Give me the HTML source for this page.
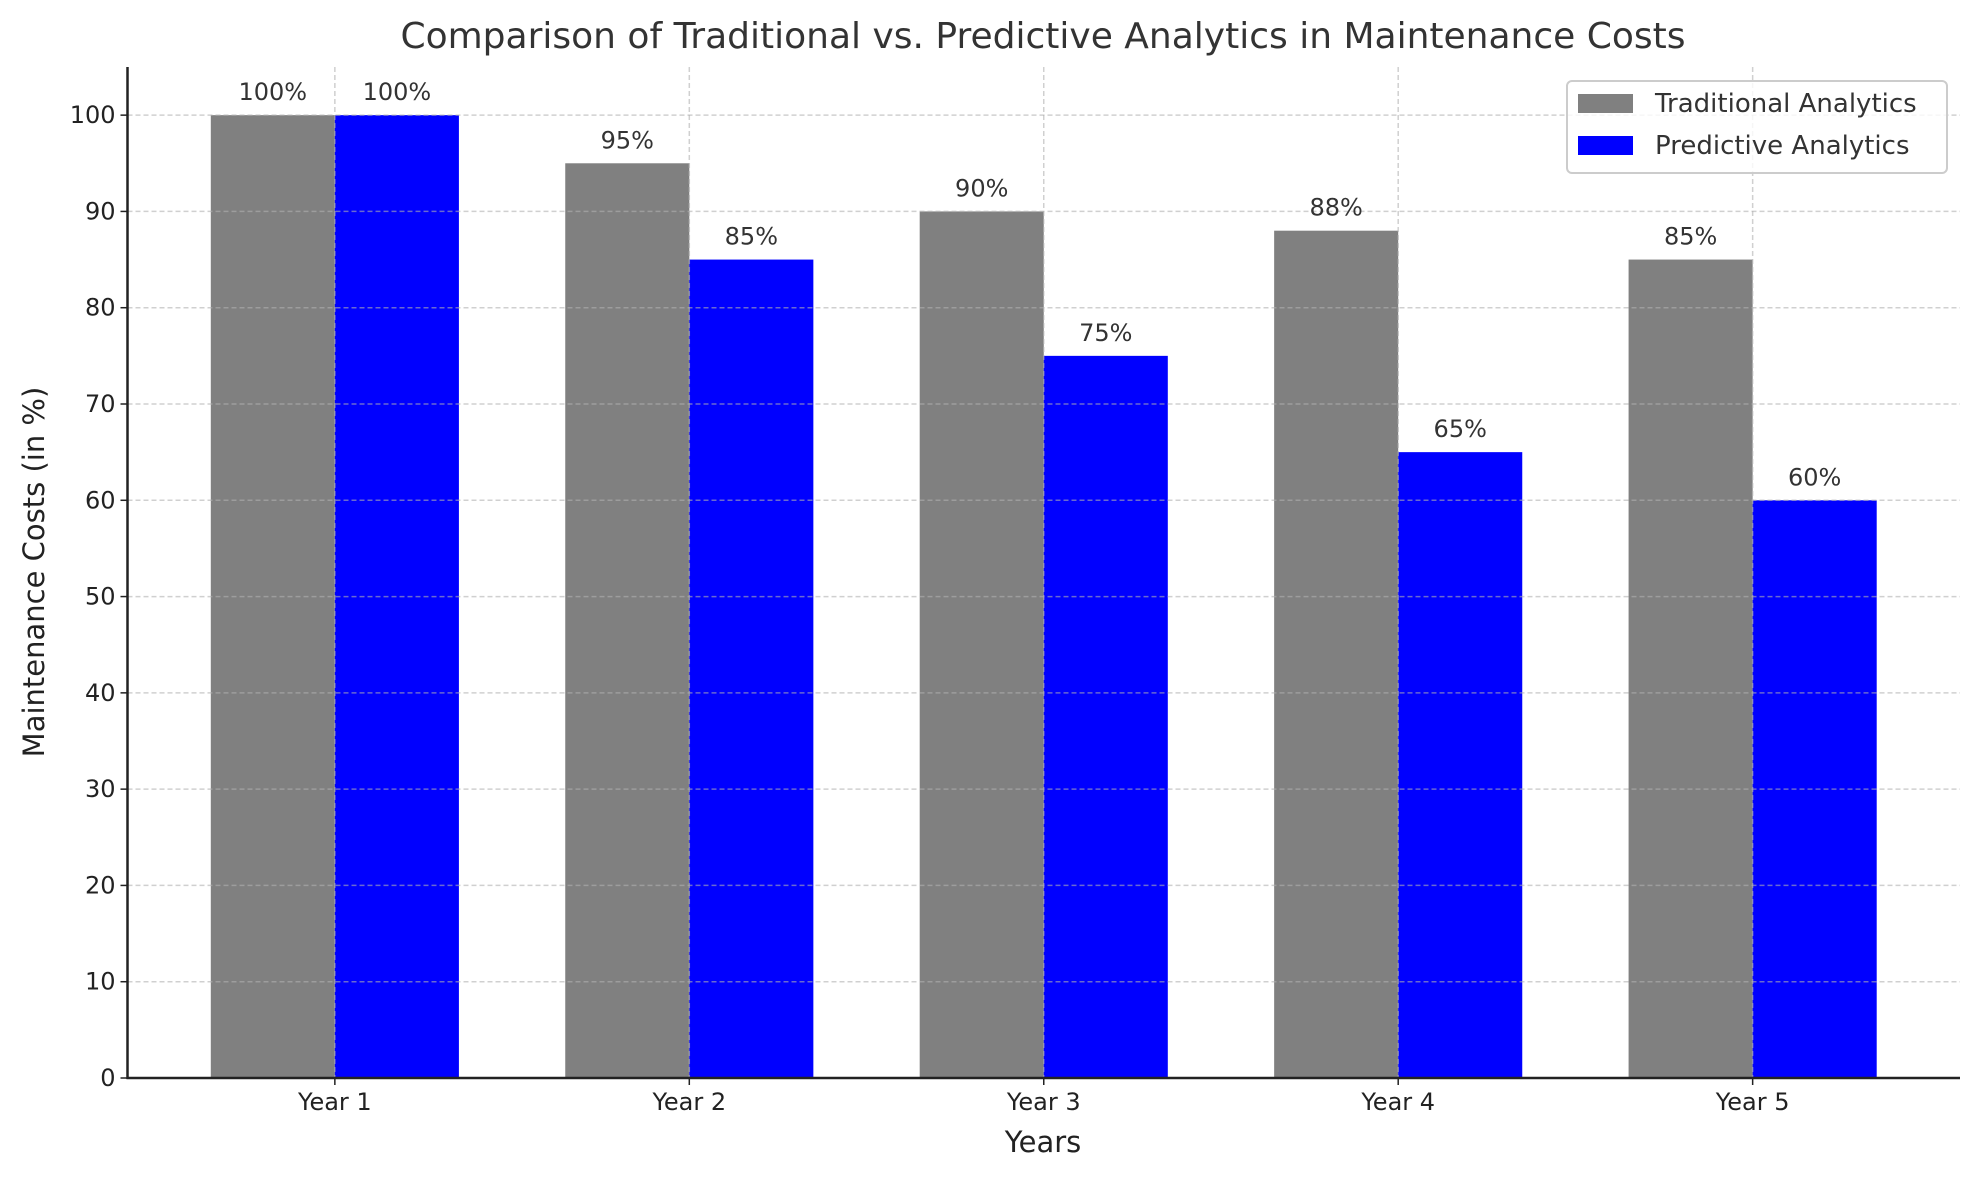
<!DOCTYPE html>
<html><head><meta charset="utf-8"><style>
body{margin:0;background:#fff}
svg text{font-family:"DejaVu Sans","Liberation Sans",sans-serif}
</style></head><body>
<svg id="chart" width="1979" height="1180" viewBox="0 0 1979 1180" xmlns="http://www.w3.org/2000/svg">
<rect width="1979" height="1180" fill="#fff"/>
<text x="1043" y="48" text-anchor="middle" font-size="36" fill="#333">Comparison of Traditional vs. Predictive Analytics in Maintenance Costs</text>
<g id="bars"></g><g id="grid"></g><g id="labels"></g><g id="axes"></g>
<text x="1043" y="1152" text-anchor="middle" font-size="29" fill="#222">Years</text>
<text transform="translate(44,572) rotate(-90)" text-anchor="middle" font-size="29" fill="#222">Maintenance Costs (in %)</text>
<g>
<rect x="1567" y="81" width="380" height="92" rx="5" fill="#fff" fill-opacity="0.8" stroke="#ccc" stroke-width="2"/>
<rect x="1578" y="94" width="55" height="19" fill="#808080"/>
<text x="1655" y="112" font-size="26" fill="#333">Traditional Analytics</text>
<rect x="1578" y="136" width="55" height="19" fill="#0000ff"/>
<text x="1655" y="154" font-size="26" fill="#333">Predictive Analytics</text>
</g>
</svg>
<script>
const categories=["Year 1","Year 2","Year 3","Year 4","Year 5"];
const traditional=[100,95,90,88,85];
const predictive=[100,85,75,65,60];
const yTicks=[0,10,20,30,40,50,60,70,80,90,100];
const L=127.5,R=1960,B=1078,T=67;
const xmin=-0.585,xmax=4.585,ymax=105;
const X=v=>L+(v-xmin)/(xmax-xmin)*(R-L);
const Y=v=>B-v/ymax*(B-T);
const NS="http://www.w3.org/2000/svg";
function mk(p,tag,a){const e=document.createElementNS(NS,tag);for(const k in a)e.setAttribute(k,a[k]);p.appendChild(e);return e;}
const bars=document.getElementById('bars'),grid=document.getElementById('grid'),labels=document.getElementById('labels'),axes=document.getElementById('axes');
const w=0.35;
categories.forEach((c,i)=>{
 [[traditional,'#808080',-w,'traditional'],[predictive,'#0000ff',0,'predictive']].forEach(([arr,col,off,nm])=>{
  const x0=X(i+off),x1=X(i+off+w);
  const r=mk(bars,'rect',{x:x0,y:Y(arr[i]),width:x1-x0,height:B-Y(arr[i]),fill:col});
  
  
  const t=mk(labels,'text',{x:(x0+x1)/2,y:Y(arr[i])-15,'text-anchor':'middle','font-size':'24',fill:'#333'});
  t.textContent=arr[i]+'%';
  
  
 });
 const g=mk(grid,'line',{x1:X(i),x2:X(i),y1:T,y2:B,stroke:'#b0b0b0','stroke-opacity':'0.6','stroke-width':'1.5','stroke-dasharray':'5,3'});
 
 
 mk(axes,'line',{x1:X(i),x2:X(i),y1:B,y2:B+7,stroke:'#222','stroke-width':'1.5'});
 const tl=mk(axes,'text',{x:X(i),y:B+32,'text-anchor':'middle','font-size':'24',fill:'#222'});
 tl.textContent=c;
 
 
});
yTicks.forEach(v=>{
 const g=mk(grid,'line',{x1:L,x2:R,y1:Y(v),y2:Y(v),stroke:'#b0b0b0','stroke-opacity':'0.6','stroke-width':'1.5','stroke-dasharray':'5,3'});
 
 
 mk(axes,'line',{x1:L-7,x2:L,y1:Y(v),y2:Y(v),stroke:'#222','stroke-width':'1.5'});
 const t=mk(axes,'text',{x:L-12,y:Y(v)+8,'text-anchor':'end','font-size':'24',fill:'#222'});
 t.textContent=v;
 
 
});
const ya=mk(axes,'line',{x1:L,x2:L,y1:T,y2:B+1,stroke:'#222','stroke-width':'2.5'});


const xa=mk(axes,'line',{x1:L-1,x2:R,y1:B,y2:B,stroke:'#222','stroke-width':'2.5'});


</script>
</body></html>
